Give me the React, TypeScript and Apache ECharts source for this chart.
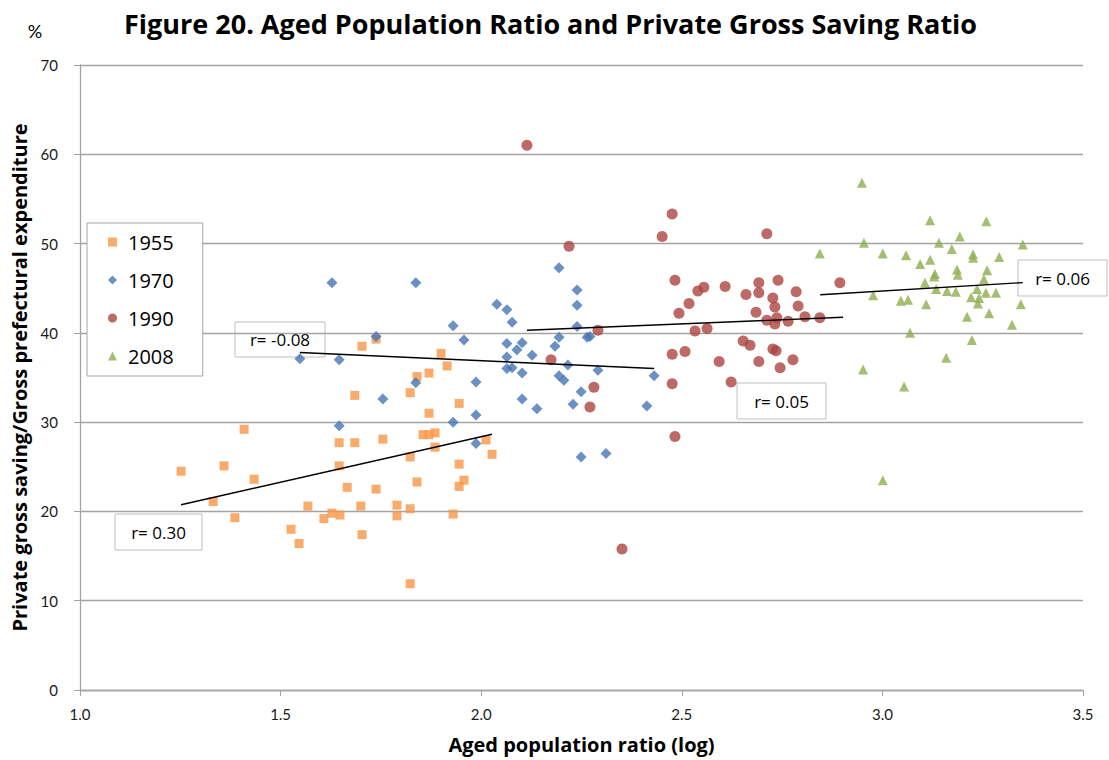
import { useEffect, useRef } from 'react';
import * as echarts from 'echarts';

// [aged population ratio (log), private gross saving ratio %]
const data1955: [number, number][] = [
  [1.252, 24.5], [1.332, 21.1], [1.359, 25.1], [1.409, 29.2], [1.434, 23.6], [1.386, 19.3],
  [1.526, 18.0], [1.546, 16.4], [1.568, 20.6], [1.608, 19.2], [1.628, 19.8], [1.648, 19.6],
  [1.646, 27.7], [1.646, 25.1], [1.666, 22.7], [1.685, 27.7], [1.685, 33.0], [1.703, 38.5],
  [1.700, 20.6], [1.703, 17.4], [1.738, 39.3], [1.738, 22.5], [1.755, 28.1], [1.790, 20.7],
  [1.790, 19.5], [1.823, 33.3], [1.823, 20.3], [1.823, 26.1], [1.823, 11.9], [1.840, 35.1],
  [1.840, 23.3], [1.855, 28.6], [1.870, 35.5], [1.870, 28.6], [1.870, 31.0], [1.885, 28.8],
  [1.885, 27.2], [1.900, 37.7], [1.915, 36.3], [1.930, 19.7], [1.945, 32.1], [1.945, 25.3],
  [1.945, 22.8], [1.957, 23.5], [2.012, 28.0], [2.027, 26.4],
];

const data1970: [number, number][] = [
  [1.628, 45.6], [1.837, 45.6], [2.039, 43.2], [2.064, 42.6], [2.077, 41.2], [1.930, 40.8],
  [1.738, 39.6], [1.957, 39.2], [2.064, 38.8], [2.102, 38.9], [2.089, 38.1], [2.064, 37.3],
  [1.548, 37.1], [1.646, 37.0], [2.064, 36.0], [2.077, 36.1], [2.102, 35.5], [1.837, 34.4],
  [1.987, 34.5], [1.755, 32.6], [2.102, 32.6], [1.987, 30.8], [1.930, 30.0], [1.646, 29.6],
  [1.987, 27.6], [2.194, 47.3], [2.239, 44.8], [2.239, 43.1], [2.239, 40.7], [2.194, 39.5],
  [2.264, 39.5], [2.271, 39.6], [2.184, 38.5], [2.127, 37.5], [2.216, 36.4], [2.291, 35.8],
  [2.194, 35.2], [2.206, 34.7], [2.431, 35.2], [2.249, 33.4], [2.229, 32.0], [2.139, 31.5],
  [2.413, 31.8], [2.249, 26.1], [2.311, 26.5],
];

const data1990: [number, number][] = [
  [2.114, 61.0], [2.351, 15.8], [2.476, 53.3], [2.451, 50.8], [2.712, 51.1], [2.219, 49.7],
  [2.483, 45.9], [2.540, 44.7], [2.555, 45.1], [2.608, 45.2], [2.692, 45.6], [2.740, 45.9],
  [2.894, 45.6], [2.660, 44.3], [2.692, 44.5], [2.727, 43.9], [2.785, 44.6], [2.518, 43.3],
  [2.493, 42.2], [2.732, 42.9], [2.790, 43.0], [2.685, 42.3], [2.712, 41.4], [2.737, 41.7],
  [2.732, 41.0], [2.765, 41.3], [2.807, 41.8], [2.844, 41.7], [2.291, 40.3], [2.533, 40.2],
  [2.563, 40.5], [2.653, 39.1], [2.670, 38.6], [2.727, 38.2], [2.735, 38.0], [2.174, 37.0],
  [2.476, 37.6], [2.508, 37.9], [2.593, 36.8], [2.692, 36.8], [2.777, 37.0], [2.745, 36.1],
  [2.281, 33.9], [2.271, 31.7], [2.476, 34.3], [2.623, 34.5], [2.483, 28.4],
];

const data2008: [number, number][] = [
  [2.949, 56.8], [3.119, 52.6], [3.259, 52.5], [3.193, 50.8], [2.954, 50.1], [3.141, 50.1],
  [3.173, 49.4], [3.350, 49.9], [2.844, 48.9], [3.001, 48.9], [3.059, 48.7], [3.226, 48.8],
  [3.226, 48.4], [3.291, 48.5], [3.119, 48.2], [3.094, 47.7], [3.186, 47.1], [3.188, 46.5],
  [3.131, 46.6], [3.129, 46.3], [3.261, 47.0], [3.253, 46.0], [3.106, 45.6], [3.134, 44.9],
  [3.161, 44.7], [3.183, 44.6], [3.236, 44.9], [3.258, 44.5], [3.283, 44.5], [2.977, 44.2],
  [3.046, 43.6], [3.064, 43.7], [3.221, 44.0], [3.241, 43.9], [3.238, 43.3], [3.109, 43.2],
  [3.345, 43.2], [3.266, 42.2], [3.211, 41.8], [3.323, 40.9], [3.069, 40.0], [3.223, 39.2],
  [3.159, 37.2], [2.952, 35.9], [3.054, 34.0], [3.001, 23.5],
];

// regression line end points
const trend1955: [number, number][] = [[1.252, 20.75], [2.027, 28.64]];
const trend1970: [number, number][] = [[1.548, 37.8], [2.431, 36.0]];
const trend1990: [number, number][] = [[2.114, 40.3], [2.902, 41.74]];
const trend2008: [number, number][] = [[2.845, 44.27], [3.35, 45.63]];

const years = ['1955', '1970', '1990', '2008'];
const rLabels = ['r= 0.30', 'r= -0.08', 'r= 0.05', 'r= 0.06'];

const FONT = 'Lato, "Open Sans", sans-serif';
const WIDE = '"Open Sans", Lato, sans-serif';
const GRID = '#a3a3a3';

function rBox(text: string, x: number, y: number, w: number, h: number) {
  return {
    type: 'group',
    x,
    y,
    z: 100,
    children: [
      { type: 'rect', shape: { x: 0, y: 0, width: w, height: h }, style: { fill: '#fff', stroke: '#bfbfbf', lineWidth: 1 } },
      {
        type: 'text',
        x: w / 2,
        y: h / 2,
        style: { text, fill: '#000', font: `17px ${WIDE}`, align: 'center', verticalAlign: 'middle' },
      },
    ],
  };
}

function trendSeries(d: [number, number][]) {
  return {
    type: 'line',
    data: d,
    symbol: 'none',
    silent: true,
    z: 5,
    lineStyle: { color: '#000', width: 1.4 },
  };
}

export default function App() {
  const ref = useRef<HTMLDivElement>(null);

  useEffect(() => {
    document.body.style.margin = '0';
    if (!ref.current) return;
    const chart = echarts.init(ref.current, undefined, { renderer: 'svg' });

    chart.setOption({
      animation: false,
      textStyle: { fontFamily: FONT },
      title: {
        text: 'Figure 20. Aged Population Ratio and Private Gross Saving Ratio',
        left: 119,
        top: 5,
        textStyle: { fontSize: 27, fontWeight: 'bold', color: '#000', fontFamily: WIDE },
      },
      grid: { left: 80, right: 26, top: 65, bottom: 70 },
      legend: {
        data: years,
        orient: 'vertical',
        left: 87,
        top: 223,
        padding: [7, 29, 8, 21],
        itemGap: 14,
        itemWidth: 9,
        itemHeight: 9,
        backgroundColor: '#fff',
        borderColor: '#a6a6a6',
        borderWidth: 1,
        textStyle: { fontSize: 20, lineHeight: 24, color: '#000', fontFamily: WIDE, padding: [0, 0, 0, 6] },
      },
      xAxis: {
        type: 'value',
        min: 1,
        max: 3.5,
        interval: 0.5,
        name: 'Aged population ratio (log)',
        nameLocation: 'middle',
        nameGap: 44,
        nameTextStyle: { fontSize: 20, fontWeight: 'bold', color: '#000', fontFamily: WIDE },
        axisLine: { show: true, onZero: false, lineStyle: { color: GRID, width: 1.3 } },
        axisTick: { show: true, length: 6, lineStyle: { color: GRID } },
        axisLabel: { color: '#1a1a1a', fontSize: 15, margin: 16, formatter: (v: number) => v.toFixed(1) },
        splitLine: { show: false },
      },
      yAxis: {
        type: 'value',
        min: 0,
        max: 70,
        interval: 10,
        name: 'Private gross saving/Gross prefectural expenditure',
        nameLocation: 'middle',
        nameGap: 46,
        nameTextStyle: { fontSize: 20, fontWeight: 'bold', color: '#000', fontFamily: WIDE },
        axisLine: { show: true, lineStyle: { color: GRID, width: 1.3 } },
        axisTick: { show: true, length: 6, lineStyle: { color: GRID } },
        axisLabel: { color: '#1a1a1a', fontSize: 15, margin: 22 },
        splitLine: { show: true, lineStyle: { color: GRID, width: 1.3 } },
      },
      graphic: [
        {
          type: 'text',
          x: 35,
          y: 31,
          style: { text: '%', fill: '#000', font: `18px ${FONT}`, align: 'center', verticalAlign: 'middle' },
        },
        rBox(rLabels[0], 115, 514, 87, 36),
        rBox(rLabels[1], 235, 322, 90, 35),
        rBox(rLabels[2], 737, 383, 89, 36),
        rBox(rLabels[3], 1018, 260, 89, 36),
      ],
      series: [
        { name: years[0], type: 'scatter', data: data1955, symbol: 'rect', symbolSize: 9, itemStyle: { color: '#F79646' } },
        { name: years[1], type: 'scatter', data: data1970, symbol: 'diamond', symbolSize: 11, itemStyle: { color: '#4674B4' } },
        { name: years[2], type: 'scatter', data: data1990, symbol: 'circle', symbolSize: 11, itemStyle: { color: '#AD4541' } },
        { name: years[3], type: 'scatter', data: data2008, symbol: 'triangle', symbolSize: 10, itemStyle: { color: '#8EAE4F' } },
        trendSeries(trend1955),
        trendSeries(trend1970),
        trendSeries(trend1990),
        trendSeries(trend2008),
      ],
    });

    return () => chart.dispose();
  }, []);

  return <div ref={ref} style={{ width: 1109, height: 760 }} />;
}
